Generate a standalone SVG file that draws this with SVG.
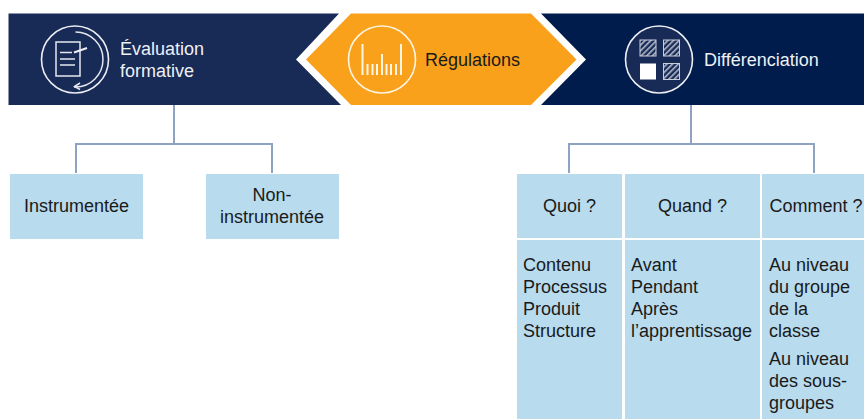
<svg xmlns="http://www.w3.org/2000/svg" width="864" height="419" viewBox="0 0 864 419">
<defs>
<pattern id="hatch" width="4" height="4" patternUnits="userSpaceOnUse" patternTransform="rotate(45)">
<rect width="4" height="4" fill="#182a56"/>
<rect width="1.600" height="4" fill="#b4bac9"/>
</pattern>
</defs>
<style>
text{font-family:"Liberation Sans",Arial,sans-serif;font-size:18px;fill:#1a1a1a}
.w{fill:#eef0f4}
.box{fill:#b8dbee}
.conn{fill:none;stroke:#8ea3c4;stroke-width:2}
.ic{fill:none;stroke:#e4e7ee;stroke-width:1.500}
.ring{fill:none;stroke:#eceef3;stroke-width:1.600}
.hatch{fill:url(#hatch);stroke:#c9cedb;stroke-width:1}
.bar{fill:#fff5e3}
</style>
<rect width="864" height="419" fill="#fff"/>
<g id="connectors">
<path class="conn" d="M174 105V144M76 173V144H272V173"/>
<path class="conn" d="M691 105V144M569 173V144H814V173"/>
</g>
<g id="evaluation">
<path d="M8.500 13.500H339L296 59.500L341 105H8.500Z" fill="#182a56"/>
<circle class="ring" cx="75" cy="59.500" r="33.500"/>
<path class="ic" d="M75.500 32A27.500 27.500 0 0 1 75.500 87L74 87"/>
<path class="ic" d="M80 83L74.500 86.500L80 89.500"/>
<rect class="ic" x="56" y="42" width="24" height="34"/>
<path class="ic" d="M60 52.500H72M60 59H75M60 65H75"/>
<path d="M74 52.500L87 48" fill="none" stroke="#eceef3" stroke-width="2"/>
<text class="w" x="120" y="54.500">Évaluation</text>
<text class="w" x="120" y="77">formative</text>
</g>
<g id="differenciation">
<path d="M541 13.500H864V105H541L586 59.500Z" fill="#001c4d"/>
<circle cx="659" cy="59.500" r="33.500" fill="#182a56" stroke="#eceef3" stroke-width="1.600"/>
<rect class="hatch" x="640" y="40" width="16" height="16"/>
<rect class="hatch" x="663.500" y="40" width="16" height="16"/>
<rect x="640" y="63.500" width="16" height="16" fill="#fff"/>
<rect class="hatch" x="663.500" y="63.500" width="16" height="16"/>
<text class="w" x="704" y="66">Différenciation</text>
</g>
<g id="regulations">
<path d="M351 13.500H531L576.500 59.500L531 105H351L306 59.500Z" fill="#f9a11b"/>
<circle cx="382" cy="59.500" r="33.500" fill="none" stroke="#fff5e3" stroke-width="1.600"/>
<rect class="bar" x="361.500" y="44" width="2" height="31"/>
<rect class="bar" x="400" y="44" width="2" height="31"/>
<rect class="bar" x="381" y="54" width="2" height="21"/>
<rect class="bar" x="366.500" y="64" width="2" height="11"/>
<rect class="bar" x="371.500" y="64" width="2" height="11"/>
<rect class="bar" x="376" y="64" width="2" height="11"/>
<rect class="bar" x="385.500" y="64" width="2" height="11"/>
<rect class="bar" x="390" y="64" width="2" height="11"/>
<rect class="bar" x="395" y="64" width="2" height="11"/>
<text x="425" y="66">Régulations</text>
</g>
<g id="instrumentee">
<rect class="box" x="10" y="174" width="133" height="65"/>
<text x="76.500" y="212" text-anchor="middle">Instrumentée</text>
</g>
<g id="non-instrumentee">
<rect class="box" x="206" y="174" width="133" height="65"/>
<text x="272" y="201" text-anchor="middle">Non-</text>
<text x="272" y="223" text-anchor="middle">instrumentée</text>
</g>
<g id="quoi-head">
<rect class="box" x="517" y="174" width="105" height="64"/>
<text x="569.500" y="212" text-anchor="middle">Quoi ?</text>
</g>
<g id="quand-head">
<rect class="box" x="625" y="174" width="135" height="64"/>
<text x="692.500" y="212" text-anchor="middle">Quand ?</text>
</g>
<g id="comment-head">
<rect class="box" x="762" y="174" width="102" height="64"/>
<text x="769.500" y="212">Comment ?</text>
</g>
<g id="quoi-body">
<rect class="box" x="517" y="240" width="105" height="179"/>
<text x="523" y="271">Contenu</text>
<text x="523" y="293">Processus</text>
<text x="523" y="315">Produit</text>
<text x="523" y="337">Structure</text>
</g>
<g id="quand-body">
<rect class="box" x="625" y="240" width="135" height="179"/>
<text x="631" y="271">Avant</text>
<text x="631" y="293">Pendant</text>
<text x="631" y="315">Après</text>
<text x="631" y="337">l’apprentissage</text>
</g>
<g id="comment-body">
<rect class="box" x="762" y="240" width="102" height="179"/>
<text x="769" y="271">Au niveau</text>
<text x="769" y="293">du groupe</text>
<text x="769" y="315">de la</text>
<text x="769" y="337">classe</text>
<text x="769" y="365">Au niveau</text>
<text x="769" y="387">des sous-</text>
<text x="769" y="409">groupes</text>
</g>
</svg>
